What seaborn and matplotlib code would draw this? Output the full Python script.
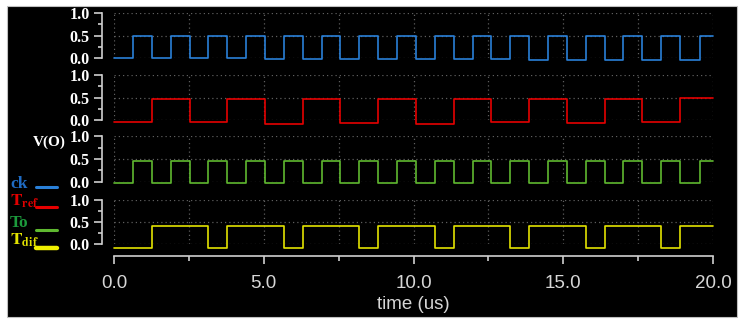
import numpy as np
import pandas as pd
import seaborn as sns
import matplotlib.pyplot as plt
from matplotlib.patches import Rectangle
from matplotlib.lines import Line2D

ck_t = [0.0, 0.63, 1.27, 1.89, 2.53, 3.15, 3.78, 4.41, 5.04, 5.67, 6.30, 6.93,
        7.56, 8.19, 8.82, 9.45, 10.08, 10.71, 11.34, 11.97, 12.60, 13.23, 13.86,
        14.49, 15.12, 15.75, 16.38, 17.01, 17.64, 18.27, 18.90, 19.55, 20.0]
ck_v = [0.0, 0.5, 0.0, 0.5, -0.01, 0.5, -0.01, 0.5, -0.02, 0.5, -0.02, 0.5,
        -0.02, 0.5, -0.02, 0.5, -0.03, 0.5, -0.03, 0.5, -0.03, 0.49, -0.04,
        0.49, -0.04, 0.49, -0.04, 0.49, -0.04, 0.49, -0.04, 0.48, 0.48]

tref_t = [0.0, 1.27, 2.53, 3.78, 5.04, 6.30, 7.56, 8.82, 10.08, 11.34, 12.60,
          13.86, 15.12, 16.38, 17.64, 18.90, 20.0]
tref_v = [-0.05, 0.47, -0.05, 0.46, -0.09, 0.46, -0.06, 0.46, -0.09, 0.46,
          -0.05, 0.47, -0.07, 0.47, -0.05, 0.48, 0.48]

to_t = [0.0, 0.63, 1.27, 1.89, 2.53, 3.15, 3.78, 4.41, 5.04, 5.67, 6.30, 6.93,
        7.56, 8.19, 8.82, 9.45, 10.08, 10.71, 11.34, 11.97, 12.60, 13.23, 13.86,
        14.49, 15.12, 15.75, 16.38, 17.01, 17.64, 18.27, 18.90, 19.55, 20.0]
to_v = [-0.03, 0.45, -0.03, 0.45, -0.03, 0.45, -0.03, 0.45, -0.03, 0.45,
        -0.03, 0.45, -0.03, 0.45, -0.03, 0.45, -0.03, 0.45, -0.03, 0.45,
        -0.03, 0.45, -0.03, 0.45, -0.03, 0.45, -0.03, 0.45, -0.03, 0.45,
        -0.03, 0.45, 0.45]

tdif_t = [0.0, 1.27, 3.15, 3.78, 5.67, 6.30, 8.19, 8.82, 10.71, 11.34, 13.23,
          13.86, 15.75, 16.38, 18.27, 18.90, 20.0]
tdif_v = [-0.1, 0.41, -0.1, 0.41, -0.1, 0.41, -0.1, 0.41, -0.1, 0.41,
          -0.1, 0.41, -0.1, 0.41, -0.1, 0.41, 0.41]

x_ticks = [0, 5, 10, 15, 20]
x_ticklabels = ["0.0", "5.0", "10.0", "15.0", "20.0"]
x_minor = [2.5, 7.5, 12.5, 17.5]
y_ticks = [0.0, 0.5, 1.0]
y_ticklabels = ["0.0", "0.5", "1.0"]
y_minor = [0.25, 0.75]

sns.set_theme(style="dark", rc={"axes.facecolor": "black",
                                "figure.facecolor": "white"})
plt.rcParams["mathtext.fontset"] = "stix"
plt.rcParams["font.family"] = ["Liberation Serif", "DejaVu Serif"]

W, H = 743, 323
fig = plt.figure(figsize=(W / 100, H / 100), dpi=100)
fig.patches.append(Rectangle((7 / W, 1 - 317 / H), 730 / W, 311 / H,
                             transform=fig.transFigure, facecolor="black",
                             edgecolor="#c0c0c0", lw=0.8, zorder=-10))

axis_col = "#cfcfcf"
grid_kw = dict(color="#5e5e5e", linestyle=(0, (1, 2.4)), linewidth=0.9)

# (times, levels, colour, pixel row of 1.0, pixel row of 0.0)
panels = [
    (ck_t, ck_v, "#2a80d8", 13, 58),
    (tref_t, tref_v, "#e60000", 75, 120),
    (to_t, to_v, "#5fb830", 136, 182),
    (tdif_t, tdif_v, "#e2e200", 200, 244),
]

for i, (t, v, col, y0, y1) in enumerate(panels):
    ax = fig.add_axes([114 / W, 1 - y1 / H, 599 / W, (y1 - y0) / H])
    df = pd.DataFrame({"t": t, "v": v})
    sns.lineplot(data=df, x="t", y="v", ax=ax, drawstyle="steps-post",
                 color=col, linewidth=1.2, clip_on=False, zorder=5)
    ax.set_xlim(0, 20)
    ax.set_ylim(0, 1)
    ax.set_xlabel("")
    ax.set_ylabel("")
    ax.set_xticks(x_ticks)
    ax.set_xticks(x_minor, minor=True)
    ax.set_yticks(y_ticks)
    ax.set_yticks(y_minor, minor=True)
    ax.set_yticklabels(y_ticklabels)
    ax.grid(True, which="both", axis="x", **grid_kw)
    ax.grid(True, which="major", axis="y", **grid_kw)

    for s in ["top", "right"]:
        ax.spines[s].set_visible(False)
    ax.spines["left"].set_position(("outward", 8.6))
    ax.spines["left"].set_bounds(0, 1)
    ax.spines["left"].set_color(axis_col)
    ax.spines["left"].set_linewidth(1.2)
    ax.tick_params(axis="y", which="both", left=True, direction="out",
                   color=axis_col, width=1.2, pad=3, labelcolor="white",
                   labelsize=11.5)
    ax.tick_params(axis="y", which="major", length=5.8)
    ax.tick_params(axis="y", which="minor", length=3.0)

    if i < 3:
        ax.spines["bottom"].set_visible(False)
        ax.tick_params(axis="x", which="both", bottom=False, length=0,
                       labelbottom=False)
    else:
        ax.spines["bottom"].set_position(("outward", 8.6))
        ax.spines["bottom"].set_bounds(0, 20)
        ax.spines["bottom"].set_color(axis_col)
        ax.spines["bottom"].set_linewidth(1.2)
        ax.tick_params(axis="x", which="both", bottom=True, direction="out",
                       color=axis_col, width=1.2, pad=8, labelcolor="#d6d6d6",
                       labelsize=13.5)
        ax.tick_params(axis="x", which="major", length=5.8)
        ax.tick_params(axis="x", which="minor", length=3.6)
        ax.set_xticklabels(x_ticklabels)
        for lbl in ax.get_xticklabels():
            lbl.set_family("Liberation Sans")
        ax.set_xlabel("time (us)", family="Liberation Sans", fontsize=13.5,
                      color="#d6d6d6", labelpad=3)

    for lbl in ax.get_yticklabels():
        lbl.set_fontweight("bold")


def fx(x):
    return x / W


def fy(y):
    return 1 - y / H


fig.text(fx(49), fy(142), "V(O)", color="white", fontsize=11,
         fontweight="bold", ha="center", va="center")

# legend drawn by hand on the left
legend_items = [
    ("ck", "#1f6cc4", "#2a80d8", 184, 187, 2.2),
    (r"$\mathbf{T}_{\mathbf{ref}}$", "#e00000", "#e60000", 201, 207, 2.2),
    ("To", "#1c9a3c", "#5fb830", 223, 230, 2.2),
    (r"$\mathbf{T}_{\mathbf{dif}}$", "#e2e200", "#f0f000", 240, 248, 3.2),
]
for label, tcol, lcol, ty, ly, lw in legend_items:
    fig.text(fx(10), fy(ty), label, color=tcol, fontsize=12.5,
             fontweight="bold", ha="left", va="center")
    fig.add_artist(Line2D([fx(36), fx(57)], [fy(ly), fy(ly)], color=lcol,
                          linewidth=lw, transform=fig.transFigure))

fig.savefig("out.png", dpi=100, facecolor="white")
